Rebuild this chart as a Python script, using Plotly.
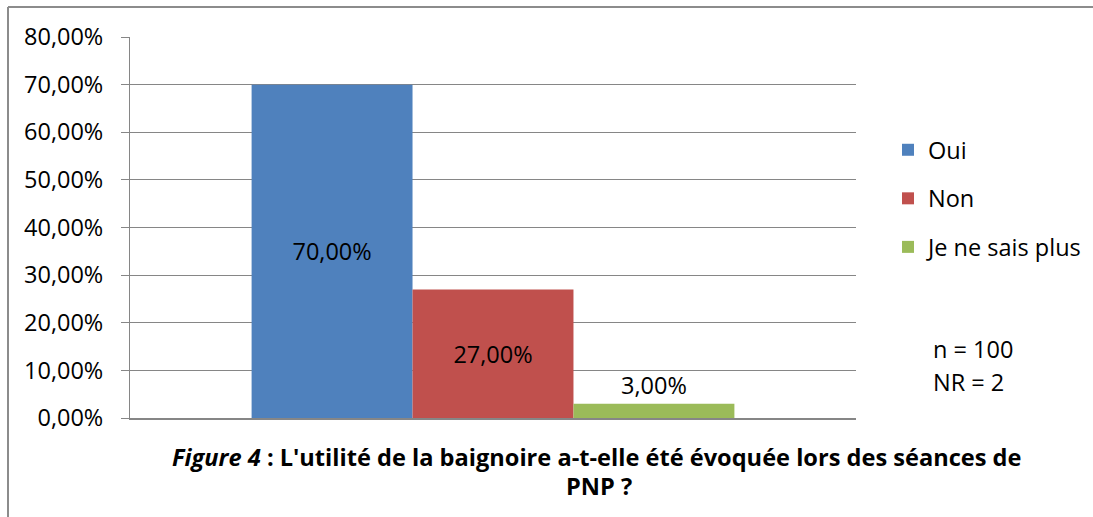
import plotly.graph_objects as go

categories = ["Oui", "Non", "Je ne sais plus"]
values = [0.70, 0.27, 0.03]
colors = ["#4F81BD", "#C0504D", "#9BBB59"]
text_positions = ["inside", "inside", "outside"]
y_ticks = [0, 0.1, 0.2, 0.3, 0.4, 0.5, 0.6, 0.7, 0.8]

W, H = 1093, 517
L, R, T, B = 130, 856, 37, 418

def px(x):
    return (x - L) / (R - L)

def py(y):
    return (B - y) / (B - T)

FONT = "Open Sans"
FS = 23.5
fig = go.Figure()
for i, (c, v, col, tp) in enumerate(zip(categories, values, colors, text_positions)):
    fig.add_trace(go.Bar(
        x=[""], y=[v], name=c, marker=dict(color=col, line=dict(width=0)),
        text=[f"{v*100:.2f}".replace(".", ",") + "%"],
        textposition=tp, insidetextanchor="middle",
        textfont=dict(family=FONT, size=FS, color="black"),
        cliponaxis=False, legendgroup=c,
    ))

fig.update_layout(
    width=W, height=H,
    margin=dict(l=L, r=W - R, t=T, b=H - B, pad=0, autoexpand=False),
    paper_bgcolor="white", plot_bgcolor="white",
    barmode="group", bargap=0.335, bargroupgap=0,
    separators=", ",
    font=dict(family=FONT, size=FS, color="black"),
    showlegend=True,
    legend=dict(x=px(888), xanchor="left", y=py(128), yanchor="top",
                font=dict(family=FONT, size=FS, color="black"),
                tracegroupgap=15, itemwidth=30, bgcolor="rgba(0,0,0,0)"),
    xaxis=dict(showticklabels=False, showgrid=False, showline=True,
               linecolor="#868686", linewidth=2, ticks="", zeroline=False),
    yaxis=dict(range=[0, 0.8], tickvals=y_ticks, tickformat=".2%",
               showgrid=True, gridcolor="#868686", gridwidth=1,
               showline=True, linecolor="#868686", linewidth=1,
               ticks="outside", ticklen=8, tickcolor="#868686",
               ticklabelstandoff=13, zeroline=False,
               tickfont=dict(family=FONT, size=FS, color="black")),
)

# Title lines
fig.add_annotation(xref="paper", yref="paper", x=px(596), y=py(457),
                   text="<b><i>Figure 4</i> : L'utilité de la baignoire a-t-elle été évoquée lors des séances de</b>",
                   showarrow=False, xanchor="center", yanchor="middle",
                   font=dict(family=FONT, size=23.6, color="black"))
fig.add_annotation(xref="paper", yref="paper", x=px(599), y=py(486),
                   text="<b>PNP ?</b>", showarrow=False, xanchor="center", yanchor="middle",
                   font=dict(family=FONT, size=23.6, color="black"))
# n / NR
fig.add_annotation(xref="paper", yref="paper", x=px(931), y=py(349),
                   text="n = 100", showarrow=False, xanchor="left", yanchor="middle",
                   font=dict(family=FONT, size=FS, color="black"))
fig.add_annotation(xref="paper", yref="paper", x=px(931), y=py(382),
                   text="NR = 2", showarrow=False, xanchor="left", yanchor="middle",
                   font=dict(family=FONT, size=FS, color="black"))

# Outer frame (left and top edges)
fig.add_shape(type="line", xref="paper", yref="paper", x0=px(8), x1=px(8), y0=py(7), y1=py(520),
              line=dict(color="#8c8c8c", width=2))
fig.add_shape(type="line", xref="paper", yref="paper", x0=px(8), x1=px(1095), y0=py(7), y1=py(7),
              line=dict(color="#8c8c8c", width=2))

fig.write_html("out.html", config={"displayModeBar": False},
               post_script="document.body.style.margin='0';")
